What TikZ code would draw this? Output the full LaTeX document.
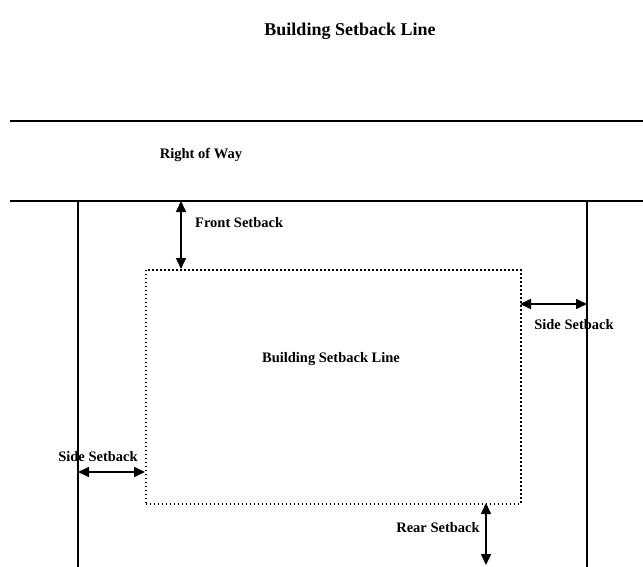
\documentclass[tikz,border=0pt]{standalone}
\usepackage{fontspec}
\setmainfont{Liberation Serif}
\usetikzlibrary{arrows.meta}
\begin{document}
\begin{tikzpicture}[x=1pt,y=-1pt,
  lbl/.style={font=\bfseries\fontsize{14.5}{16}\selectfont, inner sep=0pt},
  ttl/.style={font=\bfseries\fontsize{18}{20}\selectfont, inner sep=0pt},
  bound/.style={line width=1.8pt},
  setarrow/.style={line width=1.6pt, {Triangle[length=11pt,width=10pt]}-{Triangle[length=11pt,width=10pt]}},
  envelope/.style={draw, line width=1.5pt, dash pattern=on 1.5pt off 2.5pt, inner sep=0pt}]
\useasboundingbox (0,0) rectangle (643,567);
\node[ttl] (title) at (350,31) {Building Setback Line};
% right of way
\coordinate (r1w) at (10,121);
\coordinate (r1e) at (643,121);
\draw[bound] (r1w) -- (r1e);
\node[lbl] (row) at (201,155) {Right of Way};
\coordinate (r2w) at (10,201);
\coordinate (r2e) at (643,201);
\draw[bound] (r2w) -- (r2e);
% lot lines
\coordinate (lt) at (78,201);
\coordinate (lb) at (78,567);
\coordinate (rt) at (587,201);
\coordinate (rb) at (587,567);
\draw[bound] (lt) -- (lb);
\draw[bound] (rt) -- (rb);
% building envelope
\node[envelope, minimum width=375pt, minimum height=234pt, anchor=north west] (env) at (145,269) {};
\node[lbl] (envlbl) at (331,359) {Building Setback Line};
% front setback
\coordinate (fa) at (181,201);
\coordinate (fb) at (181,269);
\draw[setarrow] (fa) -- (fb);
\node[lbl, anchor=west] (flbl) at (195,223) {Front Setback};
% right side setback
\coordinate (sa) at (520,304);
\coordinate (sb) at (587,304);
\draw[setarrow] (sa) -- (sb);
\node[lbl] (slbl) at (574,325) {Side Setback};
% left side setback
\coordinate (la) at (78,472);
\coordinate (lc) at (145,472);
\draw[setarrow] (la) -- (lc);
\node[lbl] (llbl) at (98,457) {Side Setback};
% rear setback
\coordinate (ra) at (486,503);
\coordinate (rc) at (486,565);
\draw[setarrow] (ra) -- (rc);
\node[lbl] (rlbl) at (438,528) {Rear Setback};
\end{tikzpicture}
\end{document}
